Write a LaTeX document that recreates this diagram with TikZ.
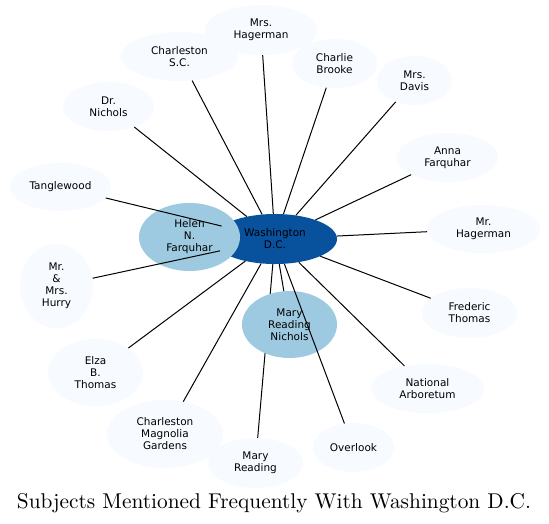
\documentclass[tikz,border=0pt]{standalone}
\usepackage{fontspec}
\newfontfamily\lbl{DejaVu Sans}
\usetikzlibrary{shapes.geometric}
\definecolor{pale}{HTML}{F7FBFF}
\definecolor{midb}{HTML}{9ECAE1}
\definecolor{darkb}{HTML}{08519C}
\tikzset{
  ent/.style={ellipse, fill=pale, inner sep=0pt, align=center, text=black,
    font=\lbl\fontsize{10.5}{12}\selectfont},
  hub/.style={ent, fill=darkb},
  mid/.style={ent, fill=midb},
  ghost/.style={ent, fill=none},
  edge/.style={draw=black, line width=1pt},
  sz/.style 2 args={minimum width=#1pt, minimum height=#2pt}
}
\begin{document}
\begin{tikzpicture}[x=1pt, y=-1pt]
\useasboundingbox[fill=white] (0,0) rectangle (549,523);
% outer nodes
\node[ent, sz={112}{50}] (mh) at (261,30) {Mrs.\\Hagerman};
\node[ent, sz={117}{49}] (cs) at (179.5,56.5) {Charleston\\S.C.};
\node[ent, sz={85}{49}] (cb) at (334.5,63.5) {Charlie\\Brooke};
\node[ent, sz={75}{49}] (md) at (414.5,80.5) {Mrs.\\Davis};
\node[ent, sz={101}{49}] (af) at (447.5,157.5) {Anna\\Farquhar};
\node[ent, sz={113}{48}] (mrh) at (483.5,229) {Mr.\\Hagerman};
\node[ent, sz={91}{49}] (dn) at (108.5,106.5) {Dr.\\Nichols};
\node[ent, sz={101}{48}] (tw) at (60.5,187) {Tanglewood};
\node[ent, sz={73}{84}] (hu) at (56.5,286) {Mr.\\\&\\Mrs.\\Hurry};
\node[ent, sz={95}{67}] (et) at (95.5,372.5) {Elza\\B.\\Thomas};
\node[ent, sz={116}{68}] (cm) at (165,434) {Charleston\\Magnolia\\Gardens};
\node[ent, sz={95}{50}] (mr) at (255.5,463) {Mary\\Reading};
\node[ent, sz={81}{49}] (ov) at (353.5,447.5) {Overlook};
\node[ent, sz={113}{49}] (na) at (427.5,388.5) {National\\Arboretum};
\node[ent, sz={95}{50}] (ft) at (469.5,313) {Frederic\\Thomas};
% hub
\node[hub, sz={124}{50}] (w) at (275,239) {Washington\\D.C.};
% outlines of the middle nodes, for the edges hidden under them
\node[ghost, sz={101}{68}] (hfo) at (189.5,237) {};
\draw[edge] (w) -- (hfo);
\draw[edge] (w) -- (mr);
% middle nodes
\node[mid, sz={101}{68}] (hf) at (189.5,237) {Helen\\N.\\Farquhar};
\node[mid, sz={95}{67}] (mn) at (289.5,324.5) {Mary\\Reading\\Nichols};
% remaining edges
\foreach \t in {mh,cs,cb,md,af,mrh,dn,tw,hu,et,cm,ov,na,ft,mn}
  \draw[edge] (w) -- (\t);
% title
\node[anchor=base, inner sep=0pt] (title) at (274,508)
  {\resizebox{514pt}{!}{Subjects Mentioned Frequently With Washington D.C.}};
\end{tikzpicture}
\end{document}
